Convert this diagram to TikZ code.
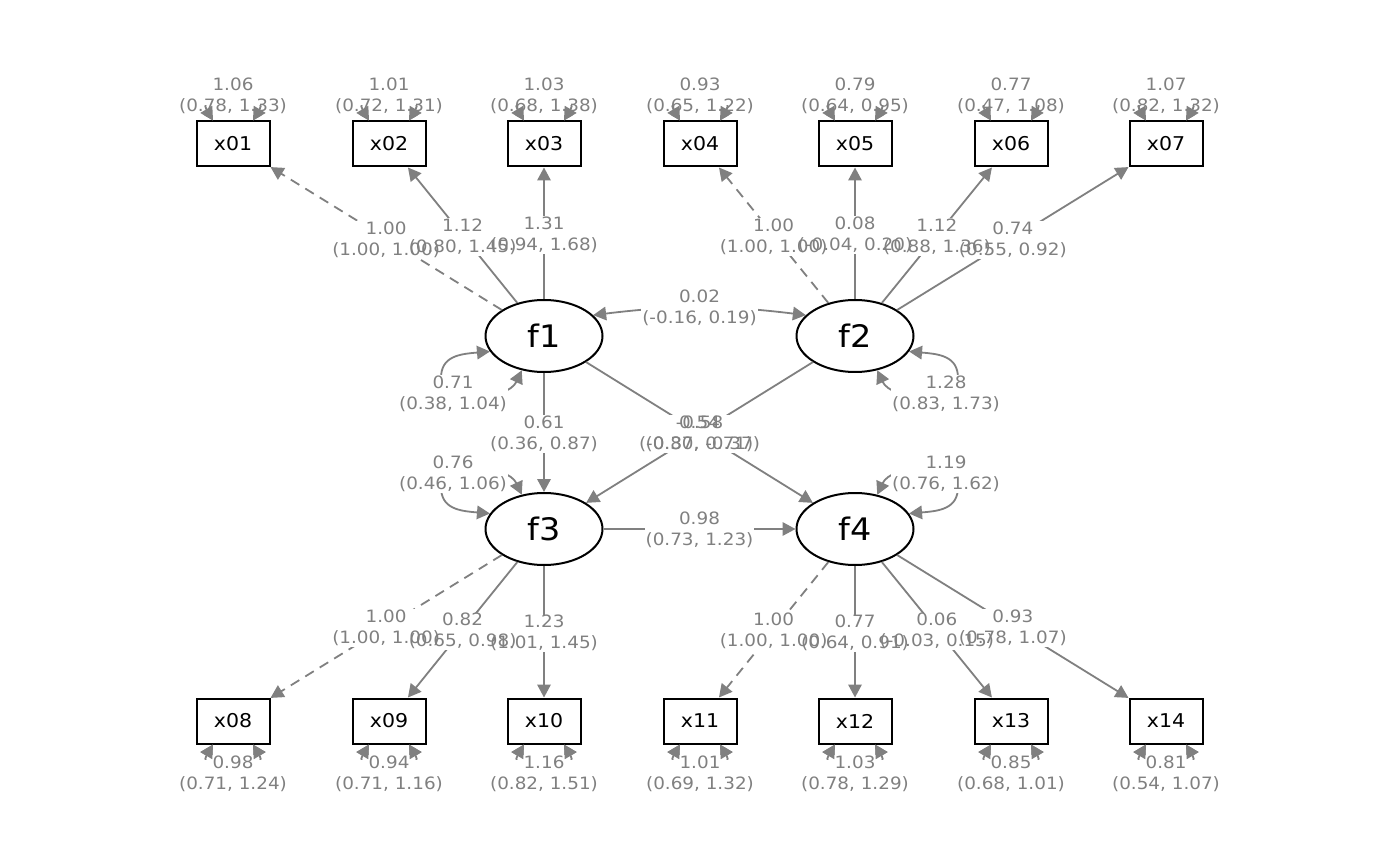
\documentclass[tikz,border=0pt]{standalone}
\usepackage{fontspec}
\newfontfamily\dvs[FakeStretch=1.08]{DejaVu Sans}
\usetikzlibrary{arrows.meta,shapes.geometric,calc}
\definecolor{edgegray}{HTML}{808080}
\tikzset{
  edge/.style={draw=edgegray, line width=1.8pt},
  tip/.style={-{Triangle[length=13pt,width=13.5pt]}},
  biarrow/.style={{Triangle[length=13pt,width=13.5pt]}-{Triangle[length=13pt,width=13.5pt]}},
  dashedge/.style={dash pattern=on 10pt off 7pt},
  ind/.style={draw=black, fill=white, line width=2pt, minimum width=73pt, minimum height=45pt, inner sep=0pt, font=\dvs\fontsize{19}{23}\selectfont},
  lat/.style={ellipse, draw=black, fill=white, line width=2pt, minimum width=117pt, minimum height=72pt, inner sep=0pt, font=\dvs\fontsize{31}{36}\selectfont},
  lblbase/.style={anchor=base, inner xsep=1pt, inner ysep=0pt, font=\dvs\fontsize{17}{21}\selectfont},
  lbgbox/.style={lblbase, text height=34pt, text depth=3.5pt, fill=white, text=white},
  lbltxt/.style={lblbase, text height=16.5pt, text depth=4.5pt, text=edgegray},
}
\newcommand{\lblfill}[3]{%
  \node[lbgbox] at ([yshift=-16.8pt]#1) {#3};}
\newcommand{\lbltext}[3]{%
  \node[lbltxt] at ([yshift=4.2pt]#1) {#2};
  \node[lbltxt] at ([yshift=-16.8pt]#1) {#3};}
\newcommand{\varloopT}[1]{%
  \draw[edge,biarrow] ($(#1.north)+(-20,0)$) .. controls +(-18,30) and +(18,30) .. ($(#1.north)+(20,0)$);}
\newcommand{\varloopB}[1]{%
  \draw[edge,biarrow] ($(#1.south)+(-20,0)$) .. controls +(-18,-30) and +(18,-30) .. ($(#1.south)+(20,0)$);}
\def\labellist{m01/1.00/{(1.00, 1.00)}, m02/1.12/{(0.80, 1.45)}, m03/1.31/{(0.94, 1.68)},
 m04/1.00/{(1.00, 1.00)}, m05/0.08/{(-0.04, 0.20)}, m06/1.12/{(0.88, 1.36)}, m07/0.74/{(0.55, 0.92)},
 m08/1.00/{(1.00, 1.00)}, m09/0.82/{(0.65, 0.98)}, m10/1.23/{(1.01, 1.45)},
 m11/1.00/{(1.00, 1.00)}, m12/0.77/{(0.64, 0.91)}, m13/0.06/{(-0.03, 0.15)}, m14/0.93/{(0.78, 1.07)},
 c12/0.02/{(-0.16, 0.19)}, r13/0.61/{(0.36, 0.87)}, r34/0.98/{(0.73, 1.23)},
 r14/0.54/{(0.37, 0.71)}, r23/-0.58/{(-0.80, -0.37)},
 vf1/0.71/{(0.38, 1.04)}, vf2/1.28/{(0.83, 1.73)}, vf3/0.76/{(0.46, 1.06)}, vf4/1.19/{(0.76, 1.62)},
 vx01/1.06/{(0.78, 1.33)}, vx02/1.01/{(0.72, 1.31)}, vx03/1.03/{(0.68, 1.38)}, vx04/0.93/{(0.65, 1.22)},
 vx05/0.79/{(0.64, 0.95)}, vx06/0.77/{(0.47, 1.08)}, vx07/1.07/{(0.82, 1.32)},
 vx08/0.98/{(0.71, 1.24)}, vx09/0.94/{(0.71, 1.16)}, vx10/1.16/{(0.82, 1.51)}, vx11/1.01/{(0.69, 1.32)},
 vx12/1.03/{(0.78, 1.29)}, vx13/0.85/{(0.68, 1.01)}, vx14/0.81/{(0.54, 1.07)}}
\begin{document}
\begin{tikzpicture}[x=1pt,y=1pt]
\path[use as bounding box, fill=white] (0,0) rectangle (1400,-866);
% indicator boxes
\node[ind] (x01) at (233,-144) {x01};
\node[ind] (x02) at (389,-144) {x02};
\node[ind] (x03) at (544,-144) {x03};
\node[ind] (x04) at (700,-144) {x04};
\node[ind] (x05) at (855,-144) {x05};
\node[ind] (x06) at (1011,-144) {x06};
\node[ind] (x07) at (1166,-144) {x07};
\node[ind] (x08) at (233,-721) {x08};
\node[ind] (x09) at (389,-721) {x09};
\node[ind] (x10) at (544,-721) {x10};
\node[ind] (x11) at (700,-721) {x11};
\node[ind] (x12) at (855,-721) {x12};
\node[ind] (x13) at (1011,-721) {x13};
\node[ind] (x14) at (1166,-721) {x14};
% latent variables
\node[lat] (f1) at (544,-336) {f1};
\node[lat] (f2) at (855,-336) {f2};
\node[lat] (f3) at (544,-529) {f3};
\node[lat] (f4) at (855,-529) {f4};
% loadings
\draw[edge,tip,dashedge] (f1) -- (x01) coordinate[midway] (m01);
\draw[edge,tip] (f1) -- (x02) coordinate[midway] (m02);
\draw[edge,tip] (f1) -- (x03) coordinate[midway] (m03);
\draw[edge,tip,dashedge] (f2) -- (x04) coordinate[midway] (m04);
\draw[edge,tip] (f2) -- (x05) coordinate[midway] (m05);
\draw[edge,tip] (f2) -- (x06) coordinate[midway] (m06);
\draw[edge,tip] (f2) -- (x07) coordinate[midway] (m07);
\draw[edge,tip,dashedge] (f3) -- (x08) coordinate[midway] (m08);
\draw[edge,tip] (f3) -- (x09) coordinate[midway] (m09);
\draw[edge,tip] (f3) -- (x10) coordinate[midway] (m10);
\draw[edge,tip,dashedge] (f4) -- (x11) coordinate[midway] (m11);
\draw[edge,tip] (f4) -- (x12) coordinate[midway] (m12);
\draw[edge,tip] (f4) -- (x13) coordinate[midway] (m13);
\draw[edge,tip] (f4) -- (x14) coordinate[midway] (m14);
% covariance
\draw[edge,biarrow] (f1.23) to[out=7,in=173] (f2.157);
\coordinate (c12) at ($(f1)!0.5!(f2)+(0,29.5)$);
% regressions
\draw[edge,tip] (f1) -- (f3) coordinate[midway] (r13);
\draw[edge,tip] (f3) -- (f4) coordinate[midway] (r34);
\draw[edge,tip] (f1) -- (f4) coordinate[midway] (r14);
\draw[edge,tip] (f2) -- (f3) coordinate[midway] (r23);
% latent variances
\draw[edge,biarrow] (f1.196) .. controls ($(f1)+(-84,-18)$) and ($(f1)+(-103,-20)$) .. ($(f1)+(-103,-42)$) .. controls ($(f1)+(-103,-72)$) and ($(f1)+(-36,-64)$) .. (f1.237);
\draw[edge,biarrow] (f2.344) .. controls ($(f2)+(84,-18)$) and ($(f2)+(103,-20)$) .. ($(f2)+(103,-42)$) .. controls ($(f2)+(103,-72)$) and ($(f2)+(36,-64)$) .. (f2.303);
\draw[edge,biarrow] (f3.164) .. controls ($(f3)+(-84,18)$) and ($(f3)+(-103,20)$) .. ($(f3)+(-103,42)$) .. controls ($(f3)+(-103,72)$) and ($(f3)+(-36,64)$) .. (f3.123);
\draw[edge,biarrow] (f4.16) .. controls ($(f4)+(84,18)$) and ($(f4)+(103,20)$) .. ($(f4)+(103,42)$) .. controls ($(f4)+(103,72)$) and ($(f4)+(36,64)$) .. (f4.57);
\coordinate (vf1) at ($(f1)+(-91,-56.5)$);
\coordinate (vf2) at ($(f2)+(91,-56.5)$);
\coordinate (vf3) at ($(f3)+(-91,56.5)$);
\coordinate (vf4) at ($(f4)+(91,56.5)$);
% indicator variances
\foreach \nm in {x01,x02,x03,x04,x05,x06,x07} {
  \varloopT{\nm}
  \coordinate (v\nm) at ($(\nm.north)+(0,26)$);
}
\foreach \nm in {x08,x09,x10,x11,x12,x13,x14} {
  \varloopB{\nm}
  \coordinate (v\nm) at ($(\nm.south)+(0,-28)$);
}
% label backgrounds
\foreach \p/\lA/\lB in \labellist {\lblfill{\p}{\lA}{\lB}}
% arrowheads of indicator variances above label backgrounds
\foreach \nm in {x01,x02,x03,x04,x05,x06,x07} {
  \begin{scope}
    \clip ($(\nm.north west)+(-15,0)$) rectangle ($(\nm.north east)+(15,15)$);
    \varloopT{\nm}
  \end{scope}
}
\foreach \nm in {x08,x09,x10,x11,x12,x13,x14} {
  \begin{scope}
    \clip ($(\nm.south west)+(-15,0)$) rectangle ($(\nm.south east)+(15,-15)$);
    \varloopB{\nm}
  \end{scope}
}
% label texts
\foreach \p/\lA/\lB in \labellist {\lbltext{\p}{\lA}{\lB}}
\end{tikzpicture}
\end{document}
